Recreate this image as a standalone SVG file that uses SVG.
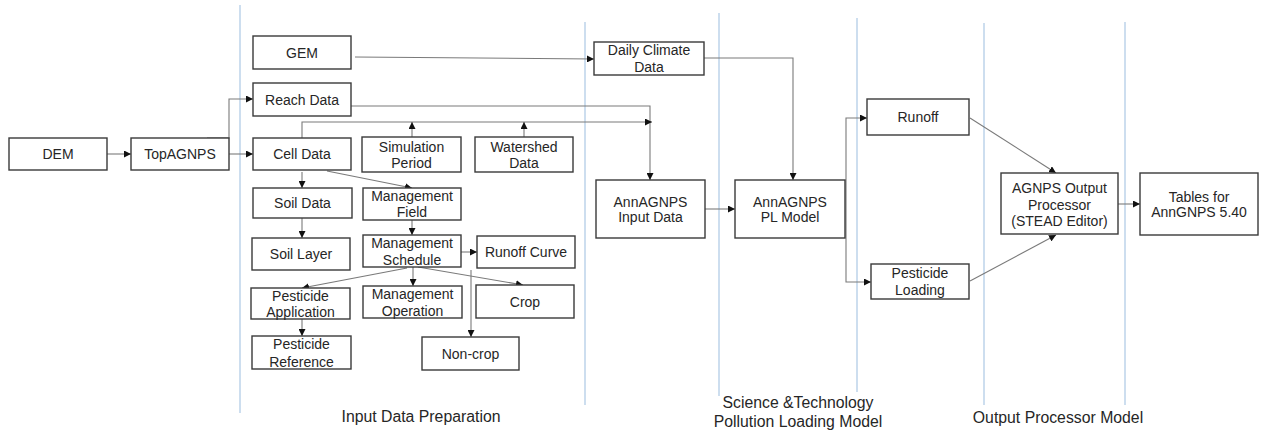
<svg xmlns="http://www.w3.org/2000/svg" width="1261" height="431" viewBox="0 0 1261 431">
<style>
.n rect{fill:#fff;stroke:#3a3a3a;stroke-width:1.4}
.n text,.lbl{font-family:"Liberation Sans",Arial,sans-serif;font-size:14px;fill:#262626;text-anchor:middle}
.sm{font-size:12.5px}
.lbl{font-size:15.8px}
.sep line{stroke:#bcd3ea;stroke-width:1.5}
.c path{fill:none;stroke:#7a7a7a;stroke-width:1.1;marker-end:url(#a)}
</style>
<defs>
<marker id="a" viewBox="0 0 10 10" refX="10" refY="5" markerWidth="7" markerHeight="7" markerUnits="userSpaceOnUse" orient="auto">
<path d="M0,0L10,5L0,10z" fill="#111"/>
</marker>
</defs>
<rect width="1261" height="431" fill="#fff"/>
<g class="sep">
<line x1="240" y1="5" x2="240" y2="413"/>
<line x1="585" y1="22" x2="585" y2="405"/>
<line x1="719" y1="13" x2="719" y2="396"/>
<line x1="857" y1="18" x2="857" y2="392"/>
<line x1="984" y1="23" x2="984" y2="405"/>
<line x1="1125" y1="22" x2="1125" y2="405"/>
</g>
<g class="c">
<path d="M107,154H131"/>
<path d="M229,154H253"/>
<path d="M207,138H229V99H253"/>
<path d="M355,57L594,59"/>
<path d="M704,58H793V180"/>
<path d="M351,106H650V180"/>
<path d="M302,138V122H652"/>
<path d="M412,137V122"/>
<path d="M524,137V122"/>
<path d="M302,172V188"/>
<path d="M327,171L412,188"/>
<path d="M302,218V238"/>
<path d="M412,220V235"/>
<path d="M461,252H477"/>
<path d="M407,268L302,288"/>
<path d="M413,267V286"/>
<path d="M418,267L523,285"/>
<path d="M471,270V337"/>
<path d="M302,319V336"/>
<path d="M705,209H735"/>
<path d="M846,209V118H867"/>
<path d="M846,209V282H871"/>
<path d="M970,118L1056,173"/>
<path d="M970,281L1056,235"/>
<path d="M1118,204H1140"/>
</g>
<g id="dem" class="n"><rect x="9" y="138" width="98" height="32"/><text x="58" y="159">DEM</text></g>
<g id="topagnps" class="n"><rect x="131" y="138" width="98" height="32"/><text x="180" y="159">TopAGNPS</text></g>
<g id="gem" class="n"><rect x="253" y="36" width="98" height="33"/><text x="302" y="57.5">GEM</text></g>
<g id="reach" class="n"><rect x="253" y="83" width="98" height="33"/><text x="302" y="104.5">Reach Data</text></g>
<g id="cell" class="n"><rect x="253" y="138" width="98" height="32"/><text x="302" y="159">Cell Data</text></g>
<g id="soildata" class="n"><rect x="253" y="188" width="99" height="30"/><text x="302.5" y="208">Soil Data</text></g>
<g id="soillayer" class="n"><rect x="252" y="238" width="98" height="32"/><text x="301" y="259">Soil Layer</text></g>
<g id="pestapp" class="n"><rect x="251" y="288" width="99" height="31"/><text x="300.5" y="301">Pesticide</text><text x="300.5" y="317">Application</text></g>
<g id="pestref" class="n"><rect x="252" y="336" width="99" height="33"/><text class="sm" x="301.5" y="349">Pesticide</text><text x="301.5" y="366.5">Reference</text></g>
<g id="simperiod" class="n"><rect x="362" y="137" width="99" height="35"/><text x="411.5" y="152">Simulation</text><text x="411.5" y="168">Period</text></g>
<g id="watershed" class="n"><rect x="475" y="137" width="98" height="35"/><text x="524" y="152">Watershed</text><text x="524" y="168">Data</text></g>
<g id="mgmtfield" class="n"><rect x="363" y="188" width="98" height="32"/><text x="412" y="201">Management</text><text class="sm" x="412" y="216.5">Field</text></g>
<g id="mgmtsched" class="n"><rect x="363" y="235" width="98" height="32"/><text x="412" y="248">Management</text><text x="412" y="265">Schedule</text></g>
<g id="runoffcurve" class="n"><rect x="477" y="236" width="98" height="32"/><text x="526" y="257">Runoff Curve</text></g>
<g id="mgmtop" class="n"><rect x="363" y="286" width="99" height="32"/><text x="412.5" y="299">Management</text><text x="412.5" y="316">Operation</text></g>
<g id="crop" class="n"><rect x="476" y="285" width="98" height="33"/><text x="525" y="306.5">Crop</text></g>
<g id="noncrop" class="n"><rect x="422" y="337" width="97" height="33"/><text x="470.5" y="358.5">Non-crop</text></g>
<g id="climate" class="n"><rect x="594" y="42" width="110" height="33"/><text x="649" y="55">Daily Climate</text><text x="649" y="72">Data</text></g>
<g id="anninput" class="n"><rect x="596" y="180" width="109" height="58"/><text x="650.5" y="207">AnnAGNPS</text><text x="650.5" y="222">Input Data</text></g>
<g id="plmodel" class="n"><rect x="735" y="180" width="110" height="58"/><text x="790" y="207">AnnAGNPS</text><text x="790" y="222">PL Model</text></g>
<g id="runoff" class="n"><rect x="867" y="99" width="102" height="36"/><text x="918" y="122">Runoff</text></g>
<g id="pestload" class="n"><rect x="871" y="264" width="98" height="35"/><text x="920" y="278">Pesticide</text><text x="920" y="295">Loading</text></g>
<g id="output" class="n"><rect x="1001" y="173" width="117" height="61"/><text x="1059.5" y="193">AGNPS Output</text><text x="1059.5" y="209.5">Processor</text><text x="1059.5" y="226">(STEAD Editor)</text></g>
<g id="tables" class="n"><rect x="1140" y="173" width="118" height="62"/><text x="1199" y="202">Tables for</text><text x="1199" y="217">AnnGNPS 5.40</text></g>
<text class="lbl" x="421" y="422">Input Data Preparation</text>
<text class="lbl" x="798" y="408">Science &amp;Technology</text>
<text class="lbl" x="798" y="427">Pollution Loading Model</text>
<text class="lbl" x="1058" y="423">Output Processor Model</text>
</svg>
